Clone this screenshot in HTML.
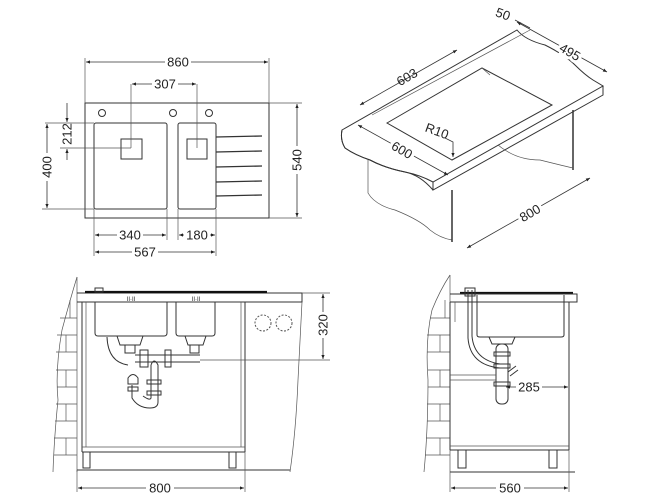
<!DOCTYPE html>
<html><head><meta charset="utf-8"><style>
html,body{margin:0;padding:0;background:#fff}
svg{display:block}
text{font-family:"Liberation Sans Narrow","Liberation Sans",sans-serif;font-size:13px;fill:#222;text-anchor:middle;dominant-baseline:central}
.l{stroke:#333;stroke-width:1;fill:none}
.t{stroke:#555;stroke-width:0.7;fill:none}
.d{stroke:#333;stroke-width:0.8;fill:none}
</style></head><body>
<svg width="650" height="500" viewBox="0 0 650 500" xmlns="http://www.w3.org/2000/svg">
<defs>
<marker id="a" viewBox="0 0 10 10" refX="10" refY="5" markerWidth="7" markerHeight="5" orient="auto-start-reverse"><path d="M0,1 L10,5 L0,9z" fill="#222"/></marker>
</defs>
<!-- ========== TOP LEFT ========== -->
<rect x="85" y="103" width="184" height="115" class="l"/>
<line x1="85" y1="103" x2="85" y2="58" class="t"/><line x1="269" y1="103" x2="269" y2="58" class="t"/>
<line x1="86" y1="62" x2="268" y2="62" class="d" marker-start="url(#a)" marker-end="url(#a)"/>
<rect x="165" y="54" width="26" height="15" fill="#fff"/><text x="178" y="62">860</text>
<circle cx="102" cy="113" r="3.5" class="l"/><circle cx="173" cy="113" r="3.5" class="l"/><circle cx="209" cy="113" r="3.5" class="l"/>
<rect x="94" y="123" width="73" height="86" rx="2" class="l"/>
<rect x="178" y="123" width="38" height="86" rx="2" class="l"/>
<rect x="121" y="139" width="21" height="20" class="l"/><rect x="187" y="139" width="20" height="20" class="l"/>
<line x1="131" y1="84" x2="131" y2="148" class="t"/><line x1="197" y1="84" x2="197" y2="148" class="t"/>
<line x1="132" y1="84" x2="196" y2="84" class="d" marker-start="url(#a)" marker-end="url(#a)"/>
<rect x="152" y="77" width="26" height="15" fill="#fff"/><text x="165" y="84">307</text>
<g stroke="#333" stroke-width="1.3"><line x1="216" y1="137" x2="262" y2="136"/><line x1="216" y1="152" x2="262" y2="151"/><line x1="216" y1="167" x2="262" y2="166"/><line x1="216" y1="182" x2="262" y2="181"/><line x1="216" y1="196" x2="262" y2="195"/></g>
<line x1="45" y1="123" x2="94" y2="123" class="t"/><line x1="60" y1="148" x2="131" y2="148" class="t"/><line x1="42" y1="209" x2="94" y2="209" class="t"/>
<line x1="67" y1="103" x2="67" y2="122" class="d" marker-end="url(#a)"/><line x1="67" y1="160" x2="67" y2="149" class="d" marker-end="url(#a)"/>
<text x="67" y="134" transform="rotate(-90 67 134)">212</text>
<line x1="47" y1="124" x2="47" y2="208" class="d" marker-start="url(#a)" marker-end="url(#a)"/>
<rect x="40" y="153" width="14" height="28" fill="#fff"/><text x="47" y="167" transform="rotate(-90 47 167)">400</text>
<line x1="269" y1="103" x2="302" y2="103" class="t"/><line x1="269" y1="218" x2="302" y2="218" class="t"/>
<line x1="297" y1="104" x2="297" y2="217" class="d" marker-start="url(#a)" marker-end="url(#a)"/>
<rect x="290" y="146" width="14" height="28" fill="#fff"/><text x="297" y="160" transform="rotate(-90 297 160)">540</text>
<line x1="94" y1="209" x2="94" y2="256" class="t"/><line x1="167" y1="209" x2="167" y2="240" class="t"/><line x1="178" y1="209" x2="178" y2="240" class="t"/><line x1="216" y1="209" x2="216" y2="256" class="t"/>
<line x1="95" y1="235" x2="166" y2="235" class="d" marker-start="url(#a)" marker-end="url(#a)"/>
<rect x="117" y="228" width="26" height="15" fill="#fff"/><text x="130" y="235">340</text>
<line x1="179" y1="235" x2="215" y2="235" class="d" marker-start="url(#a)" marker-end="url(#a)"/>
<rect x="184" y="228" width="26" height="15" fill="#fff"/><text x="197" y="235">180</text>
<line x1="95" y1="252" x2="215" y2="252" class="d" marker-start="url(#a)" marker-end="url(#a)"/>
<rect x="132" y="245" width="26" height="15" fill="#fff"/><text x="145" y="252">567</text>

<!-- ========== TOP RIGHT (iso) ========== -->
<path d="M368,157 L368,193 Q375,205 395,210 Q420,220 430,230 Q440,238 452,240" class="t"/>
<line x1="452" y1="190" x2="452" y2="242" stroke="#333" stroke-width="1.5"/>
<line x1="573" y1="110" x2="573" y2="170" stroke="#333" stroke-width="1.5"/>
<path d="M490,123 Q488,140 505,150 Q520,160 540,160 Q560,165 573,168" class="t"/>
<line x1="490" y1="75" x2="490" y2="123" class="t"/>
<!-- slab -->
<path d="M342,130 L517,30 Q525,40 545,45 Q565,55 575,65 Q585,75 593,80 L603,86 L433,182 Q420,175 405,172 Q385,168 370,160 Q355,155 345,148 Q340,140 342,130z" fill="#fff" stroke="#333" stroke-width="1"/>
<path d="M433,182 L433,190 L603,95 L603,86" fill="none" stroke="#333"/>
<path d="M342,130 Q340,140 345,148 Q355,155 370,160 Q385,168 405,172 Q420,175 433,190" class="l"/>
<line x1="372" y1="115" x2="530" y2="30" class="t"/>
<path d="M387,123 L482,68 L552,105 L452,160z" class="l"/>
<line x1="482" y1="68" x2="490" y2="75" class="t"/>
<!-- dims -->
<line x1="360" y1="105" x2="457" y2="50" class="d" marker-start="url(#a)" marker-end="url(#a)"/>
<text x="407" y="77" transform="rotate(-30 407 77)">603</text>
<line x1="358" y1="125" x2="448" y2="175" class="d" marker-start="url(#a)" marker-end="url(#a)"/>
<text x="402" y="150" transform="rotate(30 402 150)" fill="#fff" stroke="#fff" stroke-width="6">600</text>
<text x="402" y="150" transform="rotate(30 402 150)">600</text>
<line x1="467" y1="248" x2="590" y2="178" class="d" marker-start="url(#a)" marker-end="url(#a)"/>
<text x="530" y="213" transform="rotate(-30 530 213)" fill="#fff" stroke="#fff" stroke-width="6">800</text>
<text x="530" y="213" transform="rotate(-30 530 213)">800</text>
<line x1="517" y1="22" x2="607" y2="72" class="d" marker-start="url(#a)" marker-end="url(#a)"/>
<line x1="530" y1="28" x2="515" y2="20" class="d"/>
<text x="570" y="52" transform="rotate(30 570 52)" fill="#fff" stroke="#fff" stroke-width="6">495</text>
<text x="570" y="52" transform="rotate(30 570 52)">495</text>
<text x="503" y="14" transform="rotate(20 503 14)">50</text>
<text x="437" y="131" transform="rotate(20 437 131)">R10</text>
<path d="M445,138 L453,142 L453,157" class="d" marker-end="url(#a)"/>

<!-- ========== BOTTOM LEFT ========== -->
<path d="M77,277 Q70,300 62,330 Q55,370 58,400 Q54,440 53,472" class="t"/>
<line x1="77" y1="277" x2="77" y2="472" class="t"/>
<g class="t"><line x1="60" y1="318" x2="77" y2="318"/><line x1="57" y1="335" x2="77" y2="335"/><line x1="56" y1="352" x2="77" y2="352"/><line x1="56" y1="370" x2="77" y2="370"/><line x1="57" y1="387" x2="77" y2="387"/><line x1="56" y1="404" x2="77" y2="404"/><line x1="55" y1="421" x2="77" y2="421"/><line x1="54" y1="438" x2="77" y2="438"/><line x1="54" y1="455" x2="77" y2="455"/>
<line x1="70" y1="300" x2="70" y2="318"/><line x1="66" y1="335" x2="66" y2="352"/><line x1="66" y1="370" x2="66" y2="387"/><line x1="66" y1="404" x2="66" y2="421"/><line x1="66" y1="438" x2="66" y2="455"/></g>
<path d="M77,293 L302,293 L302,302 L77,302" class="l"/>
<path d="M302,302 Q300,340 298,380 Q296,430 290,472" class="t"/>
<line x1="85" y1="292" x2="267" y2="292" stroke="#111" stroke-width="2.2"/>
<rect x="95" y="288" width="8" height="4" class="l"/>
<line x1="82" y1="302" x2="82" y2="452" class="l"/><line x1="245" y1="302" x2="245" y2="452" class="l"/>
<line x1="86" y1="302" x2="86" y2="447" class="t"/><line x1="241" y1="302" x2="241" y2="447" class="t"/>
<line x1="82" y1="447" x2="245" y2="447" class="t"/><line x1="82" y1="452" x2="245" y2="452" class="l"/>
<rect x="83" y="452" width="7" height="16" class="l"/><rect x="229" y="452" width="7" height="16" class="l"/>
<line x1="77" y1="470" x2="290" y2="470" class="l"/>
<path d="M95,302 L95,333 Q95,336 98,336 L164,336 Q167,336 167,333 L167,302" class="l"/>
<path d="M176,302 L176,333 Q176,336 179,336 L212,336 Q215,336 215,333 L215,302" class="l"/>
<text x="131" y="300" style="font-size:6px">II·II</text><text x="196" y="300" style="font-size:6px">II·II</text>
<path d="M117,336 L120,345 L140,345 L143,336" class="l"/><path d="M185,336 L188,345 L203,345 L206,336" class="l"/>
<rect x="125" y="345" width="10" height="8" class="l"/><rect x="190" y="345" width="9" height="8" class="l"/>
<path d="M107,337 Q108,362 128,365" class="l"/>
<path d="M135,355 L200,355 M135,362 L200,362" class="l"/>
<rect x="140" y="350" width="8" height="17" class="l"/><rect x="165" y="350" width="6" height="17" class="l"/>
<path d="M151,365 Q154,357 158,365 L158,402 Q158,408 150,408 Q138,408 132,398 L132,385 M151,365 L151,398 Q150,401 143,396" class="l"/>
<rect x="147" y="380" width="14" height="4" class="l"/><rect x="147" y="391" width="14" height="4" class="l"/>
<path d="M128,384 L128,378 Q133,371 138,378 L138,384z" class="l"/><rect x="128" y="387" width="10" height="4" class="l"/>
<circle cx="263" cy="323" r="8" fill="none" stroke="#555" stroke-dasharray="2 1.5"/><circle cx="284" cy="323" r="8" fill="none" stroke="#555" stroke-dasharray="2 1.5"/>
<line x1="302" y1="293" x2="330" y2="293" class="t"/><line x1="200" y1="360" x2="330" y2="360" class="t"/>
<line x1="323" y1="294" x2="323" y2="359" class="d" marker-start="url(#a)" marker-end="url(#a)"/>
<rect x="316" y="312" width="14" height="26" fill="#fff"/><text x="323" y="325" transform="rotate(-90 323 325)">320</text>
<line x1="77" y1="470" x2="77" y2="492" class="t"/><line x1="245" y1="452" x2="245" y2="492" class="t"/>
<line x1="78" y1="488" x2="244" y2="488" class="d" marker-start="url(#a)" marker-end="url(#a)"/>
<rect x="146" y="481" width="28" height="15" fill="#fff"/><text x="160" y="488">800</text>

<!-- ========== BOTTOM RIGHT ========== -->
<path d="M450,275 Q440,290 432,310 Q425,340 428,380 Q428,430 424,472" class="t"/>
<line x1="450" y1="275" x2="450" y2="472" class="t"/>
<g class="t"><line x1="430" y1="318" x2="450" y2="318"/><line x1="427" y1="335" x2="450" y2="335"/><line x1="427" y1="352" x2="450" y2="352"/><line x1="428" y1="370" x2="450" y2="370"/><line x1="428" y1="387" x2="450" y2="387"/><line x1="427" y1="404" x2="450" y2="404"/><line x1="427" y1="421" x2="450" y2="421"/><line x1="426" y1="438" x2="450" y2="438"/><line x1="425" y1="455" x2="450" y2="455"/>
<line x1="445" y1="300" x2="445" y2="318"/><line x1="440" y1="335" x2="440" y2="352"/><line x1="440" y1="370" x2="440" y2="387"/><line x1="440" y1="404" x2="440" y2="421"/><line x1="440" y1="438" x2="440" y2="455"/></g>
<line x1="460" y1="293" x2="573" y2="293" stroke="#111" stroke-width="2.2"/>
<path d="M450,294 L577,294 L577,302 L450,302" class="l"/>
<line x1="450" y1="302" x2="450" y2="450" class="l"/><line x1="569" y1="302" x2="569" y2="450" class="l"/>
<line x1="455" y1="302" x2="455" y2="322" class="t"/><line x1="564" y1="302" x2="564" y2="322" class="t"/>
<line x1="450" y1="446" x2="569" y2="446" class="t"/><line x1="450" y1="450" x2="569" y2="450" class="l"/>
<rect x="458" y="450" width="8" height="18" class="l"/><rect x="549" y="450" width="8" height="18" class="l"/>
<line x1="450" y1="472" x2="575" y2="472" class="l"/>
<path d="M477,295 L477,335 Q477,337 480,337 L561,337 Q564,337 564,335 L564,295" class="l"/>
<path d="M489,337 L492,344 L512,344 L515,337" class="l"/>
<path d="M468,290 L468,338 Q470,365 500,368 M472,290 L472,336 Q474,360 500,364" class="l"/>
<rect x="465" y="288" width="10" height="8" class="l"/>
<rect x="496" y="344" width="12" height="60" rx="5" class="l"/>
<rect x="494" y="352" width="16" height="4" class="l"/><rect x="494" y="364" width="16" height="4" class="l"/><rect x="494" y="382" width="16" height="4" class="l"/>
<path d="M508,372 L516,366 M510,376 L518,370" class="l"/>
<line x1="450" y1="375" x2="496" y2="375" class="t"/><line x1="450" y1="380" x2="496" y2="380" class="t"/>
<line x1="506" y1="387" x2="568" y2="387" class="d" marker-start="url(#a)" marker-end="url(#a)"/>
<rect x="516" y="380" width="26" height="15" fill="#fff"/><text x="529" y="387">285</text>
<line x1="450" y1="472" x2="450" y2="492" class="t"/><line x1="569" y1="450" x2="569" y2="492" class="t"/>
<line x1="451" y1="488" x2="568" y2="488" class="d" marker-start="url(#a)" marker-end="url(#a)"/>
<rect x="496" y="481" width="28" height="15" fill="#fff"/><text x="510" y="488">560</text>
</svg>
</body></html>
